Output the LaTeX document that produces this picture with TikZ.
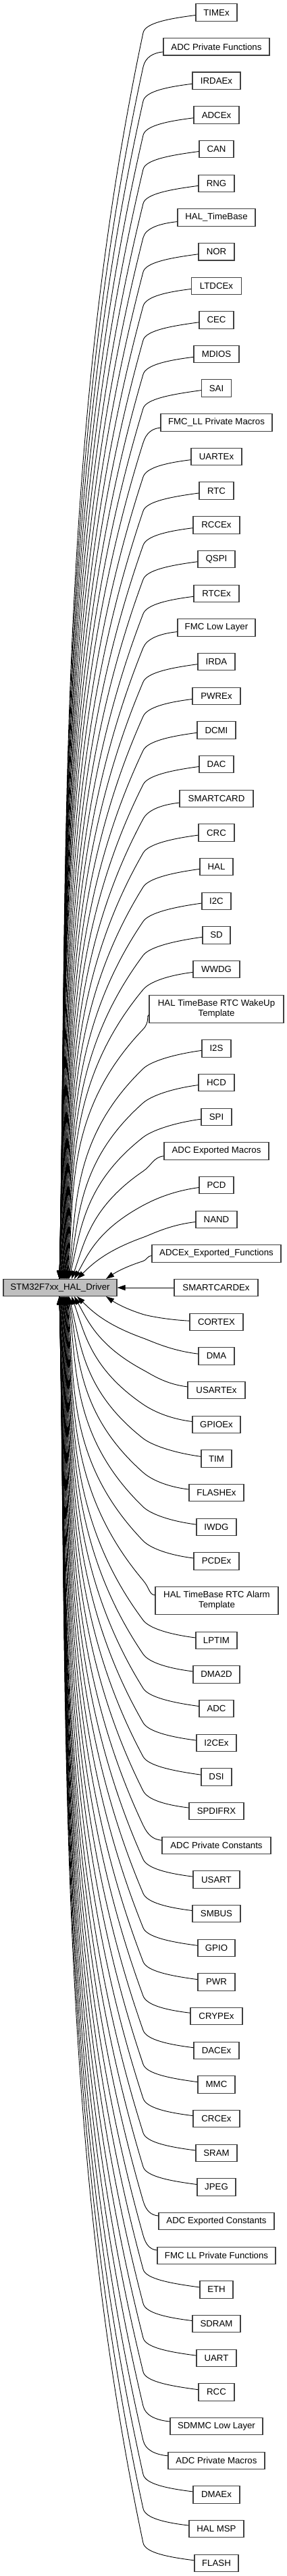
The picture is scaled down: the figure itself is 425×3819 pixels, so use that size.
\documentclass[tikz,border=0pt]{standalone}
\usepackage{fontspec}
\setmainfont{Liberation Sans}
\usetikzlibrary{arrows.meta,calc}
\definecolor{bordercol}{HTML}{404040}
\definecolor{mainfill}{HTML}{BFBFBF}
\newcommand\hallink[3]{%
  \pgfmathsetmacro\yc{#2}%
  \pgfmathsetmacro\xw{320.5-#3/2}%
  \pgfmathsetmacro\dirr{\yc<1909 ? 1 : -1}%
  \pgfmathsetmacro\ty{1909-13*\dirr}%
  \pgfmathsetmacro\tyo{-13*\dirr}%
  \pgfmathsetmacro\D{abs(\ty-\yc)}%
  \pgfmathsetmacro\kk{round(abs(\yc-1909)/50.67)}%
  \pgfmathsetmacro\tx{\kk==1 ? 157 : (\kk==2 ? 114 : (\kk==3 ? 110 : (\kk==4 ? 106 : max(88,102-(\kk-5)*0.7))))}%
  \pgfmathsetmacro\txo{\tx-89}%
  \pgfmathsetmacro\bx{212}%
  \pgfmathsetmacro\hb{min(30,0.3*\D)}%
  \pgfmathsetmacro\yb{\yc+\dirr*\hb}%
  \pgfmathsetmacro\LL{abs(\ty-\yb)/3}%
  \pgfmathsetmacro\Dx{\bx-\tx}%
  \pgfmathsetmacro\lam{min(1,\D/400)}%
  \pgfmathsetmacro\aa{0.45+0.6*\lam}%
  \pgfmathsetmacro\bb{0.75+0.15*\lam}%
  \pgfmathsetmacro\pax{\bx-\aa*\Dx}%
  \pgfmathsetmacro\pay{\yb+\dirr*\LL}%
  \pgfmathsetmacro\pbx{\bx-\bb*\Dx}%
  \pgfmathsetmacro\pby{\ty-\dirr*\LL}%
  \pgfmathsetmacro\sone{0.5*\hb/veclen(\pax-\bx,\pay-\yb)}%
  \pgfmathsetmacro\cbx{\bx-(\pax-\bx)*\sone}%
  \pgfmathsetmacro\cby{\yb-(\pay-\yb)*\sone}%
  \pgfmathsetmacro\cax{\xw-0.5*(\xw-\bx)}%
  \pgfmathsetmacro\cay{\yc+\dirr*0.3*\hb}%
  \draw[edge] (#1) .. controls (\cax,\cay) and (\cbx,\cby) .. (\bx,\yb)
     .. controls (\pax,\pay) and (\pbx,\pby) .. ($(main.center)+(\txo,\tyo)$);
}
\newcommand\halnodes{TIMEx/TIMEx/18.5/61,
ADCPF/ADC Private Functions/69.3/157,
IRDAEx/IRDAEx/119.8/71,
ADCEx/ADCEx/170.5/67,
CAN/CAN/221/51,
RNG/RNG/271.8/53,
HALTB/HAL\_TimeBase/322.3/115,
NOR/NOR/373.2/53,
LTDCEx/LTDCEx/423.8/74,
CEC/CEC/474.3/51,
MDIOS/MDIOS/525/67,
SAI/SAI/575.5/44,
FMCLLPM/FMC\_LL Private Macros/626.3/165,
UARTEx/UARTEx/677/75,
RTC/RTC/727.5/51,
RCCEx/RCCEx/778.3/69,
QSPI/QSPI/829/55,
RTCEx/RTCEx/880/67,
FMCLL/FMC Low Layer/930.3/115,
IRDA/IRDA/981/55,
PWREx/PWREx/1032/71,
DCMI/DCMI/1082.5/57,
DAC/DAC/1133/51,
SMARTCARD/SMARTCARD/1184/109,
CRC/CRC/1234.5/53,
HAL/HAL/1285/49,
I2C/I2C/1336/43,
SD/SD/1386.3/41,
WWDG/WWDG/1437/69,
I2S/I2S/1554.3/43,
HCD/HCD/1605/53,
SPI/SPI/1656/45,
ADCEM/ADC Exported Macros/1706.3/155,
PCD/PCD/1757/51,
NAND/NAND/1808/61,
ADCExEF/ADCEx\_Exported\_Functions/1858.3/191,
CORTEX/CORTEX/1960/79,
DMA/DMA/2010.3/53,
USARTEx/USARTEx/2061/85,
GPIOEx/GPIOEx/2112/71,
TIM/TIM/2162.5/45,
FLASHEx/FLASHEx/2213/81,
IWDG/IWDG/2264/59,
PCDEx/PCDEx/2314.3/67,
LPTIM/LPTIM/2432/61,
DMA2D/DMA2D/2482.3/69,
ADC/ADC/2533/51,
I2CEx/I2CEx/2584/59,
DSI/DSI/2634.3/45,
SPDIFRX/SPDIFRX/2685/81,
ADCPC/ADC Private Constants/2736/161,
USART/USART/2786.5/69,
SMBUS/SMBUS/2837/71,
GPIO/GPIO/2888/55,
PWR/PWR/2938.3/55,
CRYPEx/CRYPEx/2989/77,
DACEx/DACEx/3040/67,
MMC/MMC/3090.3/55,
CRCEx/CRCEx/3141/69,
SRAM/SRAM/3192/61,
JPEG/JPEG/3242.3/57,
ADCEC/ADC Exported Constants/3293/171,
FMCLLPF/FMC LL Private Functions/3344/175,
ETH/ETH/3394.3/49,
SDRAM/SDRAM/3445/71,
UART/UART/3496/59,
RCC/RCC/3546.3/53,
SDMMC/SDMMC Low Layer/3597/137,
ADCPM/ADC Private Macros/3648/143,
DMAEx/DMAEx/3698.3/69,
HALMSP/HAL MSP/3749/81,
FLASH/FLASH/3800/65}
\begin{document}
\begin{tikzpicture}[x=1pt,y=-1pt,
  box/.style={draw=bordercol, line width=1.1pt, fill=white, inner sep=0pt,
    minimum height=25.5pt, font=\fontsize{13.25}{15}\selectfont, align=center},
  edge/.style={draw=black, line width=0.9pt, -{Triangle[length=12pt,width=8pt]}}]
\useasboundingbox (0,0) rectangle (425,3819);
\node[box, fill=mainfill, minimum width=168pt] (main) at (89,1909) {STM32F7xx\_HAL\_Driver};
\foreach \nm/\lab/\yy/\ww in \halnodes {
  \node[box, minimum width=\ww pt] (\nm) at (320.5,\yy) {\lab};
}
\node[box, minimum width=124pt] (SMARTCARDEx) at (320,1909) {SMARTCARDEx};
\node[box, minimum width=199pt, minimum height=40.5pt] (WakeUp) at (320.5,1495.8) {HAL TimeBase RTC WakeUp\\Template};
\node[box, minimum width=182pt, minimum height=40.5pt] (Alarm) at (321,2373) {HAL TimeBase RTC Alarm\\Template};
\foreach \nm/\lab/\yy/\ww in \halnodes {
  \hallink{\nm}{\yy}{\ww}
}
\hallink{WakeUp}{1495.8}{199}
\hallink{Alarm}{2373}{182}
\draw[edge] (SMARTCARDEx) -- (main);
\end{tikzpicture}
\end{document}
